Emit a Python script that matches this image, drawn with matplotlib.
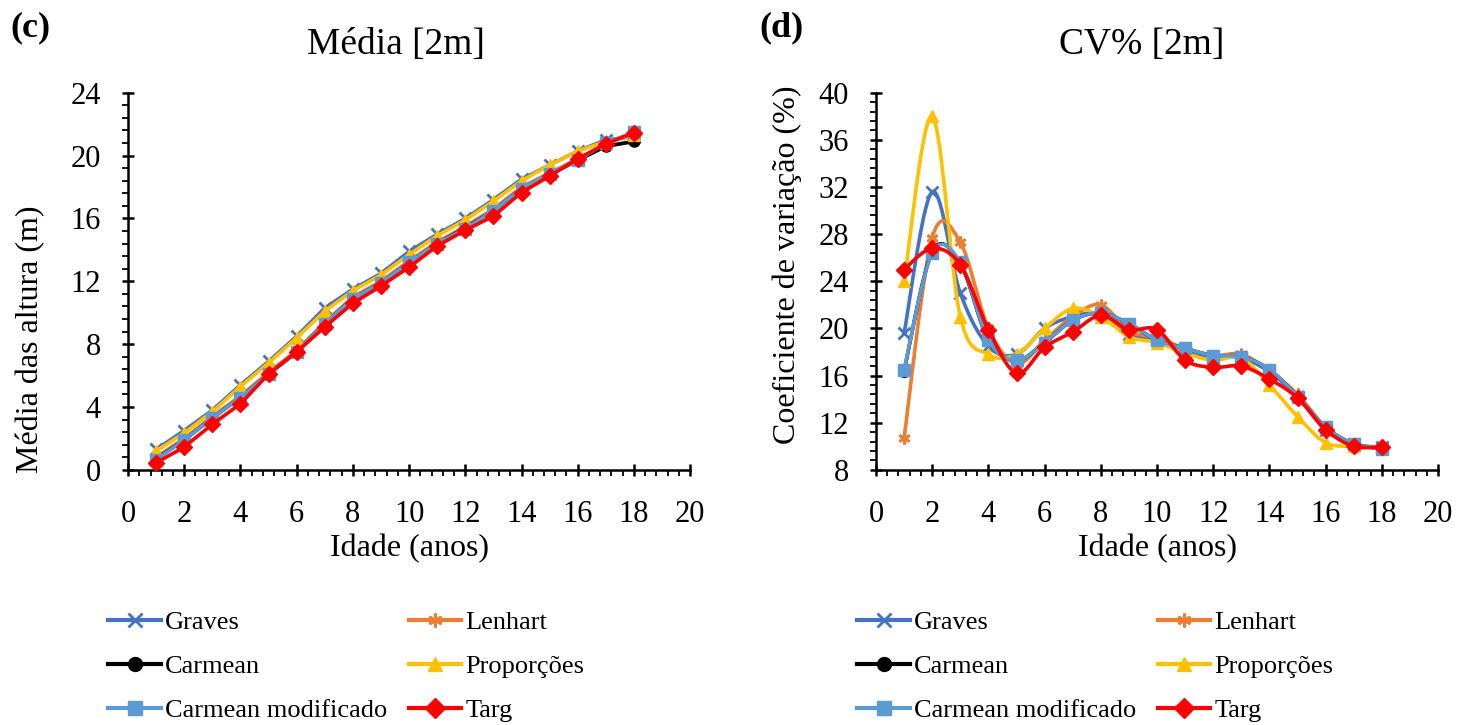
import numpy as np
import matplotlib
matplotlib.use("Agg")
import matplotlib.pyplot as plt
from matplotlib.ticker import MultipleLocator
from matplotlib.lines import Line2D

plt.rcParams['font.family'] = ['Liberation Serif', 'DejaVu Serif']

idade = list(range(1, 19))

series_names = ["Graves", "Lenhart", "Carmean", "Proporções", "Carmean modificado", "Targ"]
colors = ["#4472C4", "#ED7D31", "#000000", "#FFC000", "#5B9BD5", "#FF0000"]
markers = ["x", (6, 2, 0), "o", "^", "s", "D"]

# Média [2m]
media_graves = [1.3, 2.5, 3.8, 5.4, 6.9, 8.5, 10.3, 11.5, 12.5, 13.9, 15.0, 16.0, 17.2, 18.5, 19.4, 20.3, 21.0, 21.2]
media_lenhart = [0.8, 2.0, 3.4, 4.7, 6.2, 7.6, 9.4, 11.0, 12.0, 13.3, 14.5, 15.5, 16.6, 18.0, 18.9, 19.8, 20.6, 20.9]
media_carmean = [0.7, 1.9, 3.3, 4.6, 6.1, 7.5, 9.3, 10.9, 11.9, 13.2, 14.4, 15.4, 16.5, 17.9, 18.8, 19.7, 20.6, 20.9]
media_prop = [1.2, 2.35, 3.7, 5.3, 6.8, 8.4, 10.1, 11.4, 12.4, 13.7, 14.9, 15.9, 17.1, 18.4, 19.4, 20.3, 20.9, 21.3]
media_carmod = [0.65, 1.9, 3.3, 4.6, 6.1, 7.5, 9.3, 10.9, 11.9, 13.2, 14.4, 15.35, 16.5, 17.9, 18.85, 19.7, 20.8, 21.5]
media_targ = [0.45, 1.45, 2.9, 4.2, 6.1, 7.5, 9.1, 10.6, 11.7, 12.9, 14.25, 15.25, 16.15, 17.65, 18.7, 19.8, 20.75, 21.45]

# CV% [2m]
cv_graves = [19.6, 31.6, 23.0, 18.5, 17.8, 20.0, 21.0, 21.2, 19.5, 19.0, 18.0, 17.5, 17.5, 16.3, 14.2, 11.4, 10.2, 9.9]
cv_lenhart = [10.7, 27.7, 27.3, 20.0, 17.0, 19.0, 21.0, 22.0, 19.8, 19.2, 18.3, 17.7, 17.8, 16.4, 14.4, 11.6, 10.2, 9.9]
cv_carmean = [16.4, 26.5, 25.5, 19.0, 17.3, 18.8, 20.7, 21.3, 20.4, 19.0, 18.3, 17.7, 17.6, 16.5, 14.2, 11.6, 10.2, 9.8]
cv_prop = [24.0, 38.0, 21.0, 17.8, 17.8, 20.0, 21.7, 21.0, 19.3, 18.8, 17.9, 17.3, 17.5, 15.2, 12.5, 10.3, 10.0, 9.9]
cv_carmod = [16.5, 26.4, 25.6, 19.0, 17.3, 18.8, 20.7, 21.3, 20.4, 19.0, 18.3, 17.7, 17.6, 16.5, 14.2, 11.6, 10.2, 9.8]
cv_targ = [25.0, 26.8, 25.4, 19.9, 16.2, 18.4, 19.7, 21.1, 19.9, 19.9, 17.3, 16.7, 16.8, 15.7, 14.1, 11.4, 10.0, 9.95]

media = [media_graves, media_lenhart, media_carmean, media_prop, media_carmod, media_targ]
cv = [cv_graves, cv_lenhart, cv_carmean, cv_prop, cv_carmod, cv_targ]


def smooth(x, y, n=20):
    # excel style smoothed line (bezier through the points)
    x = np.asarray(x, float)
    y = np.asarray(y, float)
    px, py = [], []
    m = len(x)
    for i in range(m - 1):
        p0 = np.array([x[max(i - 1, 0)], y[max(i - 1, 0)]])
        p1 = np.array([x[i], y[i]])
        p2 = np.array([x[i + 1], y[i + 1]])
        p3 = np.array([x[min(i + 2, m - 1)], y[min(i + 2, m - 1)]])
        c1 = p1 + (p2 - p0) / 6
        c2 = p2 - (p3 - p1) / 6
        t = np.linspace(0, 1, n)[:, None]
        b = (1 - t) ** 3 * p1 + 3 * (1 - t) ** 2 * t * c1 + 3 * (1 - t) * t ** 2 * c2 + t ** 3 * p2
        px.extend(b[:, 0])
        py.extend(b[:, 1])
    return px, py


fig = plt.figure(figsize=(14.6, 7.25), dpi=100)
ax1 = fig.add_axes([0.0877, 0.352, 0.385, 0.52])
ax2 = fig.add_axes([0.600, 0.352, 0.385, 0.52])

for i in range(6):
    ax1.plot(idade, media[i], color=colors[i], lw=2.6, marker=markers[i],
             ms=8, mew=2 if i in (0, 1) else 1, zorder=2 + i)
    sx, sy = smooth(idade, cv[i])
    ax2.plot(sx, sy, color=colors[i], lw=2.6, zorder=2 + i)
    ax2.plot(idade, cv[i], ls="none", color=colors[i], marker=markers[i],
             ms=8.5, mew=2 if i in (0, 1) else 1, zorder=2 + i)


def style(ax, ymin, ymax, ylabel, ylab_xy, title, title_x):
    ax.set_xlim(0, 20)
    ax.set_ylim(ymin, ymax)
    ax.xaxis.set_major_locator(MultipleLocator(2))
    ax.xaxis.set_minor_locator(MultipleLocator(0.4))
    ax.yaxis.set_major_locator(MultipleLocator(4))
    ax.yaxis.set_minor_locator(MultipleLocator(0.8))
    for s in ["top", "right"]:
        ax.spines[s].set_visible(False)
    for s in ["left", "bottom"]:
        ax.spines[s].set_linewidth(1.8)
    ax.tick_params(which="major", direction="inout", length=9, width=1.8, labelsize=22)
    ax.tick_params(axis="x", which="major", pad=17)
    ax.tick_params(axis="y", which="major", pad=15)
    ax.tick_params(which="minor", direction="out", length=4, width=1.3)
    ax.set_xlabel("Idade (anos)", fontsize=23, labelpad=4)
    ax.set_ylabel(ylabel, fontsize=23)
    ax.yaxis.set_label_coords(*ylab_xy)
    ax.set_title(title, fontsize=27, pad=28, x=title_x)


style(ax1, 0, 24, "Média das altura (m)", (-0.148, 0.345), "Média [2m]", 0.477)
style(ax2, 8, 40, "Coeficiente de variação (%)", (-0.132, 0.544), "CV% [2m]", 0.472)

fig.text(0.007, 0.961, "(c)", fontsize=26, fontweight="bold", va="center")
fig.text(0.52, 0.961, "(d)", fontsize=26, fontweight="bold", va="center")

handles = [Line2D([], [], color=colors[i], lw=3, marker=markers[i], ms=10,
                  mew=2 if i in (0, 1) else 1) for i in range(6)]
order = [0, 2, 4, 1, 3, 5]
for left in (0.058, 0.571):
    fig.legend([handles[k] for k in order], [series_names[k] for k in order],
               ncol=2, frameon=False, fontsize=19, loc="upper left",
               bbox_to_anchor=(left, 0.19), handlelength=2.0, handletextpad=0.15,
               columnspacing=0.8, labelspacing=0.77)

fig.savefig("out.png", dpi=100)
